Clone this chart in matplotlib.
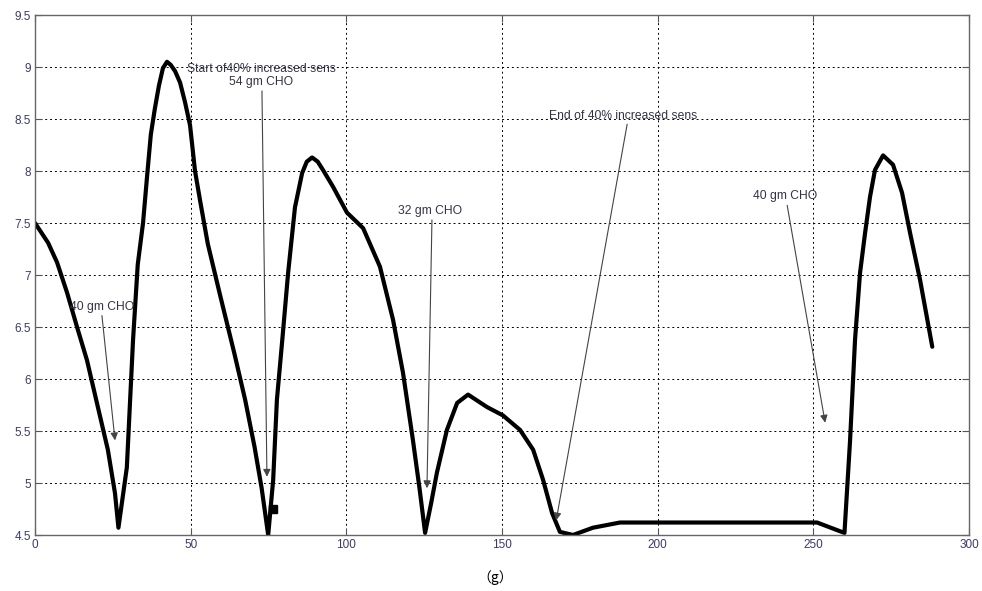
import matplotlib
matplotlib.use("Agg")
import matplotlib.pyplot as plt

plt.rcParams["font.family"] = ["Liberation Sans", "DejaVu Sans"]

# glucose trace
t = [0, 4.2, 7.1, 10.3, 13.5, 16.7, 20.2, 23.4, 25.7, 26.8, 29.5, 31.5, 33.0, 34.7,
     36.0, 37.2, 38.5, 39.8, 41.1, 42.4, 43.6, 45.0, 46.6, 48.2, 49.8, 51.4, 53,
     55.5, 59.5, 64, 67.5, 70.5, 72.8, 74.9, 76.5, 77.7, 79.5, 81.3, 83.5, 85.8,
     87.3, 89, 90.8, 92.5, 95.7, 100.2, 105.4, 110.8, 115, 118.2, 121.4, 123.5,
     125.3, 127.2, 129.1, 132.3, 135.6, 139.1, 145.2, 150.3, 155.8, 160, 163.2,
     166.1, 168.6, 172.8, 179.2, 187.9, 200, 251.2, 260.0, 261.8, 263.4, 265,
     266.6, 268.2, 269.8, 272.4, 275.6, 278.5, 281.1, 284.3, 288.2]
bg = [7.5, 7.31, 7.12, 6.83, 6.5, 6.18, 5.73, 5.32, 4.9, 4.57, 5.15, 6.38, 7.1, 7.5,
      7.95, 8.35, 8.6, 8.82, 8.99, 9.05, 9.02, 8.96, 8.85, 8.66, 8.44, 8.0, 7.72,
      7.3, 6.8, 6.25, 5.8, 5.35, 4.95, 4.5, 5.03, 5.8, 6.4, 7.02, 7.65, 7.98,
      8.09, 8.13, 8.09, 8.01, 7.85, 7.6, 7.45, 7.08, 6.57, 6.06, 5.41, 4.95,
      4.52, 4.8, 5.1, 5.51, 5.77, 5.85, 5.73, 5.65, 5.51, 5.32, 5.03,
      4.71, 4.53, 4.5, 4.57, 4.62, 4.62, 4.62, 4.52, 5.41, 6.38, 7.02,
      7.4, 7.75, 8.01, 8.15, 8.06, 7.79, 7.4, 6.95, 6.31]

# annotations: label, text centre, arrow tail, arrow tip
ann_labels = ["40 gm CHO", "Start of40% increased sens\n54 gm CHO", "32 gm CHO",
              "End of 40% increased sens", "40 gm CHO"]
ann_text = [(21.5, 6.69), (72.6, 8.92), (126.9, 7.62), (188.9, 8.53), (240.9, 7.76)]
ann_tail = [(21.5, 6.61), (72.9, 8.77), (127.5, 7.53), (190.2, 8.45), (241.6, 7.67)]
ann_tip = [(25.7, 5.41), (74.5, 5.06), (125.9, 4.95), (167.4, 4.64), (253.8, 5.58)]

marker_pt = (76.5, 4.75)

tick_col = "#3a3a6a"

fig = plt.figure(figsize=(9.82, 5.91), dpi=100)
ax = fig.add_axes([35 / 982, 1 - 535 / 591, 934 / 982, 520 / 591])

ax.plot(t, bg, color="black", lw=3, solid_joinstyle="round", solid_capstyle="round")
ax.plot([marker_pt[0]], [marker_pt[1]], "s", color="black", markersize=6)

for lab, tc, tail, tip in zip(ann_labels, ann_text, ann_tail, ann_tip):
    ax.annotate("", xy=tip, xytext=tail,
                arrowprops=dict(arrowstyle="-|>", color="#444444", lw=0.8,
                                mutation_scale=11, shrinkA=0, shrinkB=0))
    ax.text(tc[0], tc[1], lab, ha="center", va="center", fontsize=8.7,
            color="#33334a", linespacing=1.05)

ax.set_xlim(0, 300)
ax.set_ylim(4.5, 9.5)
ax.set_xticks(range(0, 301, 50))
ax.set_yticks([4.5, 5, 5.5, 6, 6.5, 7, 7.5, 8, 8.5, 9, 9.5])
ax.set_yticklabels(["4.5", "5", "5.5", "6", "6.5", "7", "7.5", "8", "8.5", "9", "9.5"])
ax.grid(True, color="black", linestyle=(0, (2, 3)), lw=0.7)
ax.tick_params(direction="in", top=True, right=True, labelsize=8.5,
               labelcolor=tick_col, length=5, color="#555555", pad=3)
for s in ax.spines.values():
    s.set_color("#666666")
    s.set_linewidth(1)

fig.text(495 / 982, 1 - 578 / 591, "（g）", ha="center", va="center", fontsize=10,
         family=["Noto Sans CJK SC", "DejaVu Sans"])

fig.savefig("out.png", dpi=100)
